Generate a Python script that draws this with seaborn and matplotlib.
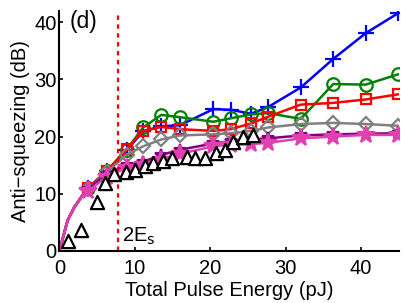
import numpy as np
import pandas as pd
import matplotlib
matplotlib.use("Agg")
import matplotlib.pyplot as plt
import seaborn as sns

# energies where the simulation markers sit (pJ)
energy = [3.8, 6.3, 8.9, 11.1, 13.5, 16.0, 20.4, 22.7, 25.4, 27.7, 32.0, 36.3, 40.6, 44.9]
# start of every curve (shared rise from the origin)
start_x = [0.0, 1.1, 2.0, 3.1]
start_y = [0.0, 5.4, 7.7, 9.8]

blue_y = [11.0, 14.0, 17.6, 20.9, 21.8, 22.0, 24.8, 24.7, 24.0, 25.2, 28.6, 33.6, 38.1, 41.6]
green_y = [11.0, 14.0, 17.7, 21.6, 23.8, 23.4, 22.6, 23.2, 23.9, 24.1, 23.1, 29.2, 29.1, 30.9]
red_y = [11.0, 14.0, 17.8, 21.0, 21.7, 21.3, 21.0, 21.3, 22.3, 23.5, 25.6, 25.9, 26.5, 27.4]
gray_y = [10.8, 13.8, 16.8, 18.3, 19.5, 20.2, 20.4, 20.6, 21.0, 21.6, 22.2, 22.4, 22.2, 21.9]
purple_y = [10.8, 13.5, 15.0, 15.6, 16.8, 17.7, 18.8, 19.2, 19.5, 19.7, 20.2, 20.4, 20.5, 20.6]
magenta_y = [10.5, 13.0, 14.5, 15.0, 15.9, 17.0, 18.3, 18.6, 18.7, 18.9, 19.7, 20.0, 20.3, 20.3]

# measured points (black triangles)
meas_x = [1.1, 2.9, 5.0, 6.1, 7.3, 8.85, 10.0, 11.3, 12.4, 13.7, 14.9, 16.9,
          18.0, 19.3, 20.8, 21.9, 23.0, 24.3, 25.7]
meas_y = [1.8, 3.7, 8.5, 11.9, 13.4, 13.8, 14.2, 14.8, 15.3, 15.7, 16.3, 16.5,
          16.2, 16.2, 17.1, 17.7, 19.1, 20.0, 20.3]

E_2s = 7.75

series = [
    # name, values, color, marker, marker size, face
    ("blue", blue_y, "#0000FF", "+", 11, "#0000FF"),
    ("green", green_y, "#008000", "o", 9, "none"),
    ("red", red_y, "#FF0000", "s", 7.5, "none"),
    ("gray", gray_y, "#808080", "D", 7, "none"),
    ("purple", purple_y, "#800080", "*", 9, "#800080"),
    ("magenta", magenta_y, "#E040B0", "*", 13, "#E040B0"),
]

plt.rcParams["font.family"] = ["Liberation Sans", "DejaVu Sans"]
fs = 14.5

fig = plt.figure(figsize=(4.07, 3.03), dpi=100)
ax = fig.add_axes([0.146, 0.172, 0.834, 0.792])

for name, vals, col, mk, ms, face in series:
    line_df = pd.DataFrame({"x": start_x + energy, "y": start_y + vals})
    sns.lineplot(data=line_df, x="x", y="y", sort=False, estimator=None,
                 color=col, linewidth=1.8, ax=ax)
    ax.plot(energy, vals, linestyle="none", marker=mk, markersize=ms,
            markeredgecolor=col, markerfacecolor=face, markeredgewidth=1.6)

meas_df = pd.DataFrame({"x": meas_x, "y": meas_y})
sns.scatterplot(data=meas_df, x="x", y="y", marker="^", s=90,
                facecolor="white", edgecolor="black", linewidth=1.6,
                zorder=5, ax=ax)

ax.axvline(E_2s, color="#FF0000", linestyle=(0, (2, 2)), linewidth=1.6)
ax.text(E_2s + 0.6, 0.6, r"2E$_\mathrm{s}$", fontsize=fs, ha="left", va="bottom")
ax.text(1.4, 42.2, "(d)", fontsize=16.5, ha="left", va="top")

ax.set_xlim(0, 45)
ax.set_ylim(0, 42)
ax.set_xticks([0, 10, 20, 30, 40])
ax.set_yticks([0, 10, 20, 30, 40])
ax.tick_params(direction="in", length=3, width=1.2, labelsize=fs)
ax.tick_params(axis="x", pad=6)
ax.tick_params(axis="y", pad=2)
ax.set_xlabel("Total Pulse Energy (pJ)", fontsize=fs, labelpad=2)
ax.set_ylabel("Anti\u2212squeezing (dB)", fontsize=fs, labelpad=3)
for side in ["top", "right"]:
    ax.spines[side].set_visible(False)
for side in ["left", "bottom"]:
    ax.spines[side].set_linewidth(1.5)

fig.savefig("out.png", dpi=100)
